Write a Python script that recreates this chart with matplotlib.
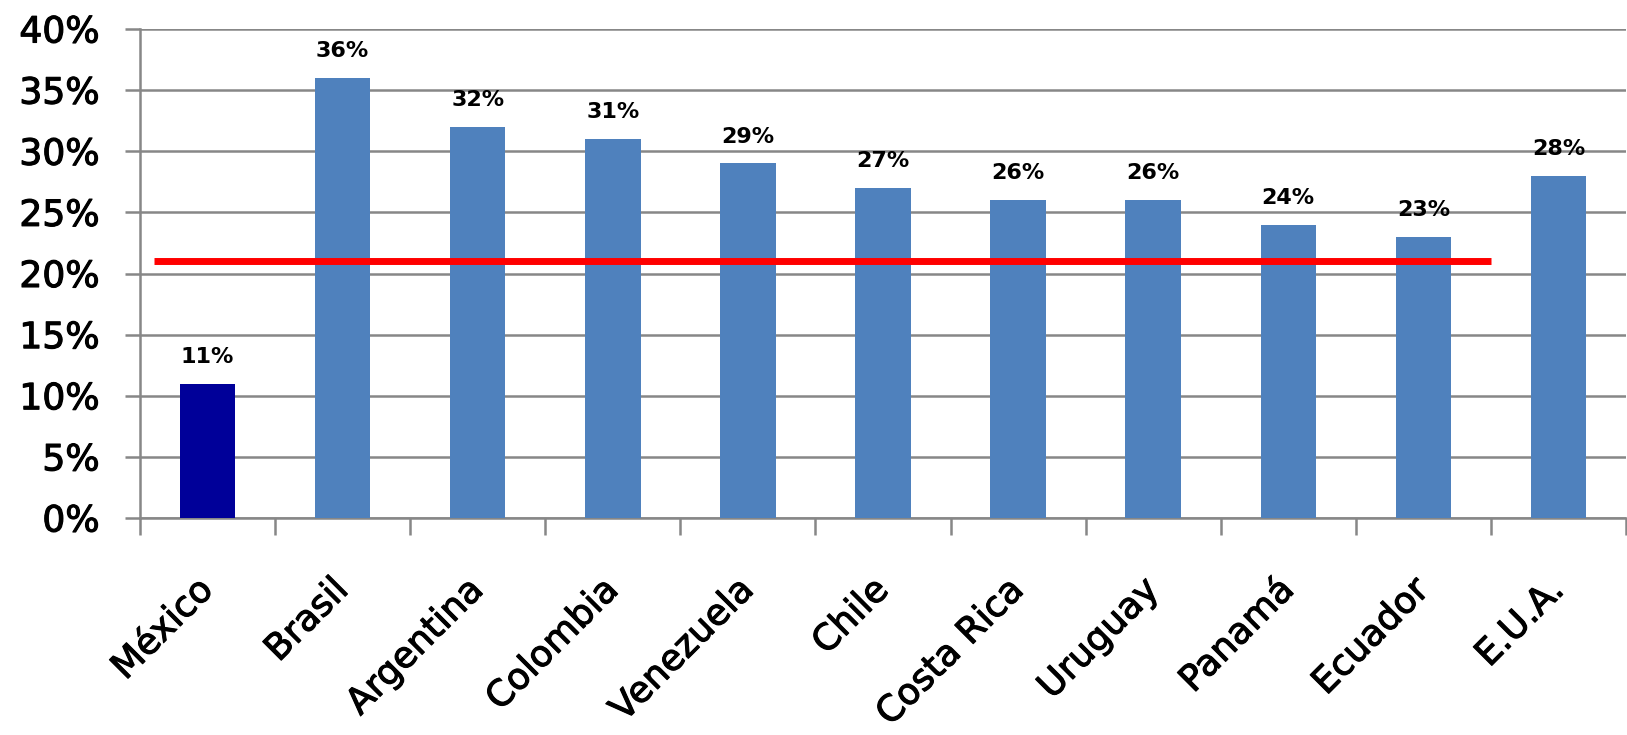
import matplotlib.pyplot as plt
import matplotlib.patheffects as pe
from matplotlib.ticker import FixedLocator, PercentFormatter

paises = ['México', 'Brasil', 'Argentina', 'Colombia', 'Venezuela', 'Chile',
          'Costa Rica', 'Uruguay', 'Panamá', 'Ecuador', 'E.U.A.']
valores = [11, 36, 32, 31, 29, 27, 26, 26, 24, 23, 28]
promedio = 21
promedio_desde = 'México'
promedio_hasta = 'Ecuador'

plt.rcParams['font.family'] = ['DejaVu Sans']
gris = '#878787'
trazo = [pe.withStroke(linewidth=0.8, foreground='black')]

fig = plt.figure(figsize=(16.27, 7.35), dpi=100)
ax = fig.add_axes([140 / 1627, 1 - 518 / 735, 1486 / 1627, (518 - 29) / 735])

x = list(range(len(paises)))
colores = ['#000099'] + ['#4F81BD'] * (len(paises) - 1)
ax.bar(x, valores, width=0.41, color=colores, zorder=3)

for xi, v in zip(x, valores):
    ax.annotate('%d%%' % v, (xi, v), xytext=(0, 12), textcoords='offset points',
                ha='center', va='bottom', fontsize=16, fontweight='bold', zorder=5)

i0 = paises.index(promedio_desde)
i1 = paises.index(promedio_hasta)
ax.plot([i0 - 0.4, i1 + 0.5], [promedio, promedio], color='#FF0000',
        linewidth=5, solid_capstyle='butt', zorder=4)

ax.set_xlim(-0.5, len(paises) - 0.5)
ax.set_ylim(0, 40)
ax.set_yticks(range(0, 41, 5))
ax.yaxis.set_major_formatter(PercentFormatter(decimals=0))
ax.grid(axis='y', color=gris, linewidth=1.8, zorder=0)

ax.xaxis.set_major_locator(FixedLocator([i - 0.5 for i in range(len(paises) + 1)]))
ax.xaxis.set_minor_locator(FixedLocator(x))
ax.set_xticklabels([], minor=False)
ax.set_xticklabels(paises, minor=True, rotation=45, ha='right', va='center',
                   rotation_mode='anchor', fontsize=26)
ax.tick_params(axis='x', which='major', length=12, width=1.8, color=gris)
ax.tick_params(axis='x', which='minor', length=0, pad=48)
ax.tick_params(axis='y', length=11, width=1.8, color=gris, labelsize=26, pad=18)

for lab in ax.get_xticklabels(minor=True) + ax.get_yticklabels():
    lab.set_path_effects(trazo)

for s in ['top', 'right']:
    ax.spines[s].set_visible(False)
for s in ['left', 'bottom']:
    ax.spines[s].set_color(gris)
    ax.spines[s].set_linewidth(1.8)

fig.savefig('out.png', dpi=100)
